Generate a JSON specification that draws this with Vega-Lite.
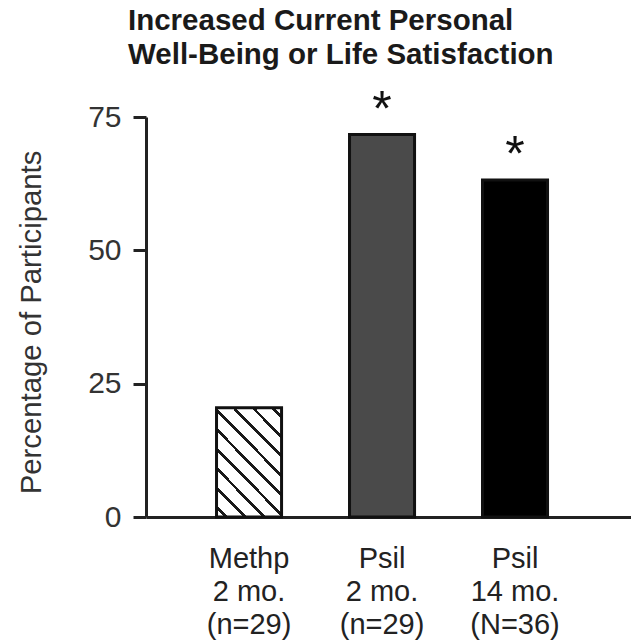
{
  "$schema": "https://vega.github.io/schema/vega-lite/v6.json",
  "width": 485,
  "height": 400,
  "autosize": {"type": "none"},
  "padding": {"left": 146, "top": 117, "right": 0, "bottom": 125},
  "background": "white",
  "config": {
    "font": "Liberation Sans",
    "view": {"stroke": null}
  },
  "title": {
    "text": ["Increased Current Personal", "Well-Being or Life Satisfaction"],
    "anchor": "start",
    "frame": "group",
    "dx": -18,
    "offset": -14,
    "baseline": "bottom",
    "fontSize": 29.5,
    "fontWeight": "bold",
    "lineHeight": 34,
    "color": "#1a1a1a",
    "font": "Liberation Sans"
  },
  "data": {
    "values": [
      {"treat": "Methp|2 mo.|(n=29)", "pct": 20.5, "sig": ""},
      {"treat": "Psil|2 mo.|(n=29)", "pct": 71.7, "sig": "*"},
      {"treat": "Psil|14 mo.|(N=36)", "pct": 63.2, "sig": "*"}
    ]
  },
  "encoding": {
    "x": {
      "field": "treat",
      "type": "nominal",
      "sort": null,
      "scale": {"paddingInner": 0.511, "paddingOuter": 0.579, "align": 0.458},
      "axis": {
        "title": null,
        "labelAngle": 0,
        "labelExpr": "split(datum.label, '|')",
        "labelFontSize": 29,
        "labelLineHeight": 33,
        "labelPadding": 27,
        "labelColor": "#222",
        "labelBaseline": "top",
        "ticks": false,
        "domainColor": "#222",
        "domainWidth": 3
      }
    },
    "y": {
      "field": "pct",
      "type": "quantitative",
      "scale": {"domain": [0, 75], "nice": false},
      "axis": {
        "values": [0, 25, 50, 75],
        "grid": false,
        "tickSize": 13,
        "tickWidth": 3,
        "tickColor": "#222",
        "domainColor": "#222",
        "domainWidth": 3,
        "labelFontSize": 30,
        "labelPadding": 12,
        "labelColor": "#333",
        "title": "Percentage of Participants",
        "titleFontSize": 29.3,
        "titleFontWeight": "normal",
        "titleColor": "#333",
        "titleX": -115,
        "titleY": 205,
        "titleBaseline": "middle",
        "titleAlign": "center",
        "titleAngle": -90
      }
    }
  },
  "layer": [
    {
      "mark": {"type": "bar", "stroke": "#111", "strokeWidth": 3},
      "encoding": {
        "fill": {
          "condition": {
            "test": "indexof(datum.treat, 'Methp') === 0",
            "value": {
              "gradient": "linear",
              "x1": 0, "y1": 1, "x2": 0.7105, "y2": -0.175,
              "stops": [
                {"offset": 0, "color": "#ffffff"},
                {"offset": 0.0444, "color": "#ffffff"}, {"offset": 0.0444, "color": "#1a1a1a"}, {"offset": 0.0667, "color": "#1a1a1a"}, {"offset": 0.0667, "color": "#ffffff"},
                {"offset": 0.1556, "color": "#ffffff"}, {"offset": 0.1556, "color": "#1a1a1a"}, {"offset": 0.1778, "color": "#1a1a1a"}, {"offset": 0.1778, "color": "#ffffff"},
                {"offset": 0.2667, "color": "#ffffff"}, {"offset": 0.2667, "color": "#1a1a1a"}, {"offset": 0.2889, "color": "#1a1a1a"}, {"offset": 0.2889, "color": "#ffffff"},
                {"offset": 0.3778, "color": "#ffffff"}, {"offset": 0.3778, "color": "#1a1a1a"}, {"offset": 0.4, "color": "#1a1a1a"}, {"offset": 0.4, "color": "#ffffff"},
                {"offset": 0.4889, "color": "#ffffff"}, {"offset": 0.4889, "color": "#1a1a1a"}, {"offset": 0.5111, "color": "#1a1a1a"}, {"offset": 0.5111, "color": "#ffffff"},
                {"offset": 0.6, "color": "#ffffff"}, {"offset": 0.6, "color": "#1a1a1a"}, {"offset": 0.6222, "color": "#1a1a1a"}, {"offset": 0.6222, "color": "#ffffff"},
                {"offset": 0.7111, "color": "#ffffff"}, {"offset": 0.7111, "color": "#1a1a1a"}, {"offset": 0.7333, "color": "#1a1a1a"}, {"offset": 0.7333, "color": "#ffffff"},
                {"offset": 0.8222, "color": "#ffffff"}, {"offset": 0.8222, "color": "#1a1a1a"}, {"offset": 0.8444, "color": "#1a1a1a"}, {"offset": 0.8444, "color": "#ffffff"},
                {"offset": 0.9333, "color": "#ffffff"}, {"offset": 0.9333, "color": "#1a1a1a"}, {"offset": 0.9556, "color": "#1a1a1a"}, {"offset": 0.9556, "color": "#ffffff"},
                {"offset": 1, "color": "#ffffff"}
              ]
            }
          },
          "field": "treat",
          "type": "nominal",
          "scale": {
            "domain": ["Methp|2 mo.|(n=29)", "Psil|2 mo.|(n=29)", "Psil|14 mo.|(N=36)"],
            "range": ["#ffffff", "#4a4a4a", "#000000"]
          },
          "legend": null
        }
      }
    },
    {
      "mark": {"type": "text", "fontSize": 50, "baseline": "alphabetic", "dy": -9, "color": "#111", "font": "Liberation Sans"},
      "encoding": {
        "text": {"field": "sig"}
      }
    }
  ]
}
